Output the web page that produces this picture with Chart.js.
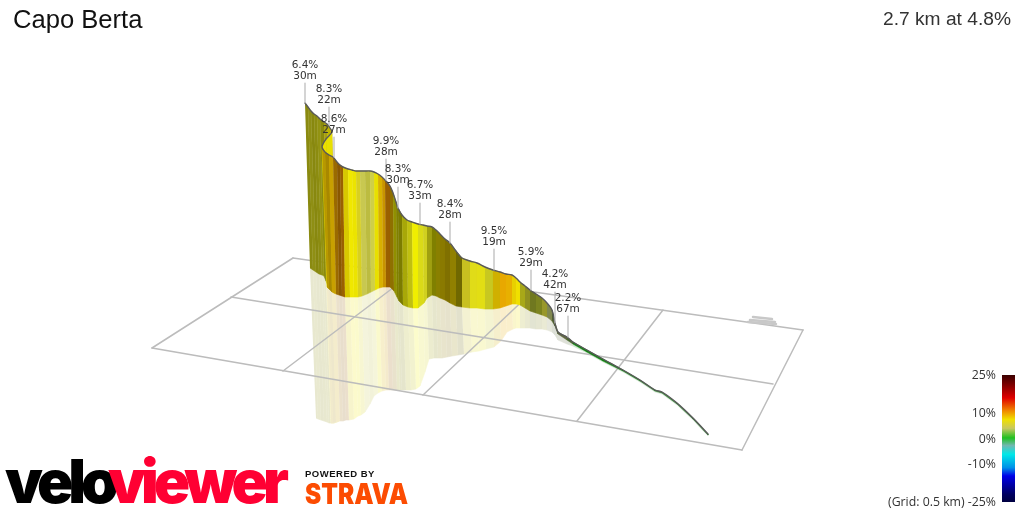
<!DOCTYPE html>
<html>
<head>
<meta charset="utf-8">
<title>Capo Berta</title>
<script src="https://cdn.jsdelivr.net/npm/chart.js@4/dist/chart.umd.min.js"></script>
<style>
  html, body { margin: 0; padding: 0; background: #fff; overflow: hidden; }
  canvas { display: block; }
</style>
</head>
<body>
<canvas id="profile" width="1024" height="512"></canvas>
<script>
// Profile, one entry per strip edge (projected 3D view)
const topX = [305,308,311,314,317,320,324,327,330,332,326,322,325,329,333,337,340,343,348,352,356,360,365,370,374,378,382,385,390,393,396,398,402,407,412,418,423,427,432,436,440,445,450,456,462,470,477,485,493,500,506,512,516,520,525,530,536,542,547,552,555,558,567,573,587,603,623,640,655,662,677,693,708];
const topY = [103,107,111,114,116,119,122,124,128,132,139,147,152,155,157,162,165,167,169,170,171,171,171,171,172,174,177,180,186,193,202,208,215,220,222,224,225,226,227,230,234,239,243,251,258,261,263,267,270,272,274,275,278,282,286,290,294,298,303,310,323,332,337,342,350,359,370,380,390,392,403,418,434];
const baseX = [310,313,316,319,322,324,326,329,333,335,330,327,329,332,336,339,342,345,350,354,358,362,367,371,375,379,383,386,390,394,397,399,403,408,413,418,424,427,432,436,440,445,450,456,462,470,477,485,493,500,506,512,516,520,525,530,536,542,547,552,555,558,567,573,587,603,623,640,655,662,677,693,708];
const baseY = [268,270,272,274,275,276,281,288,292,293,289,287,289,292,294,295,296,297,297,297,297,296,294,292,290,288,287,287,287,291,297,301,305,307,308,308,303,298,295,296,298,300,303,306,307,308,308,309,309,308,306,304,304,305,308,311,313,315,317,321,326,334,340,344,352,361,371,381,391,393,404,419,435];
const reflX = [316,318,321,324,327,329,331,334,337,339,334,331,333,336,340,343,346,349,354,358,361,365,370,374,378,382,386,389,393,397,400,402,406,411,416,420,425,429,434,438,442,447,452,458,464,472,479,486,494,501,507,513,516,520,525,530,536,542,547,552,555,558,567,573,587,603,623,640,655,662,677,693,708];
const reflY = [418,419,420,421,422,423,423,423,422,421,423,423,423,422,421,421,420,420,419,416,415,412,404,396,393,391,390,390,390,390,390,390,390,390,389,386,372,359,358,358,358,357,356,355,354,352,351,349,347,341,332,329,328,328,328,328,329,329,330,332,335,340,344,346,353,362,372,382,392,394,405,420,436];
const stripColors = [
  '#8a8a10','#8f8f14','#88880f','#8c8c10','#939312','#8a8a0c','#a8a010','#bcb400','#c4b400','#e8e000','#ecdf00',
  '#b89800','#a88800','#c8a000','#9a6a00','#8a5800','#9a6000','#d8c800','#f0e800','#ece400','#d8d020','#c8c850',
  '#bcbc40','#cfcf48','#e8e000','#d8b000','#c89400','#9a6000','#8f7000','#909000','#808000','#7c7c00','#a8a808',
  '#c0c010','#f0ee00','#dada18','#d0d020','#a0a010','#808000','#8a8000','#8a7a00','#807000','#908000','#706800',
  '#c8c020','#e0dc18','#e2de14','#c8c820','#d0b000','#e8a800','#e8b000','#e8d000','#f0e000','#a8a818','#909020',
  '#707820','#7c8420','#98982a','#808850','#506030','#586838','#606840','#4a6a30','#108010','#108010','#108010',
  '#208020','#308030','#308030','#308030','#308030','#308030'
];
// Grid lines on the ground, as pairs of end points
const gridX = [[293,803],[231,773],[152,742],[293,152],[410,283],[532,423],[663,577],[803,742]];
const gridY = [[258,330],[297,384],[348,450],[258,348],[275,371],[292,395],[310,421],[330,450]];
const hatchX = [[753,772],[750,775],[748,776]];
const hatchY = [[317,319],[320,322],[322,324]];
// Callouts
const labelX = [305,329,334,386,398,420,450,494,531,555,568];
const labelGrade = ['6.4%','8.3%','8.6%','9.9%','8.3%','6.7%','8.4%','9.5%','5.9%','4.2%','2.2%'];
const labelGain = ['30m','22m','27m','28m','30m','33m','28m','19m','29m','42m','67m'];
const labelY = [65,89,119,141,169,185,204,231,252,274,298];
const leaderEndY = [103,125,157,180,208,224,243,270,290,323,337];
// Colour key
const keyLabels = ['25%','10%','0%','-10%','(Grid: 0.5 km) -25%'];
const keyLabelY = [375,413,439,464,502];
const keyStops = [0,0.08,0.18,0.275,0.35,0.42,0.495,0.555,0.625,0.73,0.795,0.94,1];
const keyColors = ['#3a0000','#800000','#e00000','#f08000','#f0e000','#c8c860','#20c020','#70b8b0','#00e8e8','#0090e8','#0000e8','#000060','#000040'];

function pale(hex, a) {
  const c = [1, 3, 5].map(i => parseInt(hex.substr(i, 2), 16));
  return 'rgb(' + c.map(v => Math.round(255 - (255 - v) * a)).join(',') + ')';
}
function shape(xs, ys, color, border) {
  return {
    data: xs.map((x, i) => ({ x: x, y: ys[i] })),
    fill: 'shape', backgroundColor: color, borderColor: color,
    borderWidth: border, pointRadius: 0, tension: 0
  };
}
function line(xs, ys, color, width, tension) {
  return {
    data: xs.map((x, i) => ({ x: x, y: ys[i] })),
    fill: false, borderColor: color, borderWidth: width,
    pointRadius: 0, tension: tension || 0, borderCapStyle: 'round', borderJoinStyle: 'round'
  };
}

let layers = [];
// reflection first, it sits under everything
stripColors.forEach((c, i) => {
  layers.push(shape([baseX[i], baseX[i+1], reflX[i+1], reflX[i]], [baseY[i], baseY[i+1], reflY[i+1], reflY[i]], pale(c, 0.2), 0.6));
});
gridX.forEach((xs, i) => layers.push(line(xs, gridY[i], '#bcbcbc', 1.5)));
hatchX.forEach((xs, i) => layers.push(line(xs, hatchY[i], '#c8c8c8', 2.5)));
stripColors.forEach((c, i) => {
  layers.push(shape([topX[i], topX[i+1], baseX[i+1], baseX[i]], [topY[i], topY[i+1], baseY[i+1], baseY[i]], c, 0.6));
});
layers.push(line(topX, topY, '#5a5a5a', 1.4, 0.35));
labelX.forEach((x, i) => layers.push(line([x, x], [labelY[i] + 18, leaderEndY[i]], '#b8b8b8', 1.2)));
// colour key
const ctx = document.getElementById('profile').getContext('2d');
const keyGrad = ctx.createLinearGradient(0, 375, 0, 502);
keyStops.forEach((s, i) => keyGrad.addColorStop(s, keyColors[i]));
layers.push(shape([1002, 1015, 1015, 1002], [375, 375, 502, 502], keyGrad, 0));
// chart.js paints the first dataset last
layers.reverse();

const textPlugin = {
  id: 'texts',
  afterDraw(chart) {
    const c = chart.ctx, sx = chart.scales.x, sy = chart.scales.y;
    c.save();
    c.textBaseline = 'middle';
    c.fillStyle = '#333';
    c.font = '10.5px "DejaVu Sans"';
    c.textAlign = 'center';
    labelX.forEach((x, i) => {
      c.fillText(labelGrade[i], sx.getPixelForValue(x), sy.getPixelForValue(labelY[i]));
      c.fillText(labelGain[i], sx.getPixelForValue(x), sy.getPixelForValue(labelY[i] + 11));
    });
    c.fillStyle = '#333';
    c.font = '12.3px "Open Sans"';
    c.textAlign = 'right';
    keyLabels.forEach((t, i) => c.fillText(t, 996, sy.getPixelForValue(keyLabelY[i])));

    c.fillStyle = '#111';
    c.textAlign = 'left';
    c.font = '25.6px "Liberation Sans"';
    c.fillText('Capo Berta', 13, 21);
    c.fillStyle = '#333';
    c.textAlign = 'right';
    c.font = '19.2px "Liberation Sans"';
    c.fillText('2.7 km at 4.8%', 1011, 20);

    // logos
    c.textAlign = 'left';
    c.textBaseline = 'alphabetic';
    c.font = '900 60px Inter';
    c.letterSpacing = '-5px';
    c.fillStyle = '#000';
    c.fillText('velo', 5, 503, 112);
    c.fillStyle = '#ff0033';
    c.fillText('viewer', 108, 503, 178);
    c.fillStyle = '#111';
    c.font = 'bold 9.5px "Liberation Sans"';
    c.letterSpacing = '0.5px';
    c.fillText('POWERED BY', 305, 477);
    c.letterSpacing = '0px';
    c.fillStyle = '#fc4c02';
    c.font = '900 28px Inter';
    c.fillText('STRAVA', 305, 504, 103);
    c.restore();
  }
};

new Chart(ctx, {
  type: 'scatter',
  data: { datasets: layers.map(d => Object.assign({ showLine: true }, d)) },
  options: {
    responsive: false,
    animation: false,
    events: [],
    layout: { padding: 0 },
    plugins: { legend: { display: false }, tooltip: { enabled: false } },
    scales: {
      x: { type: 'linear', min: 0, max: 1024, display: false },
      y: { type: 'linear', min: 0, max: 512, reverse: true, display: false }
    }
  },
  plugins: [textPlugin]
});
</script>
</body>
</html>
